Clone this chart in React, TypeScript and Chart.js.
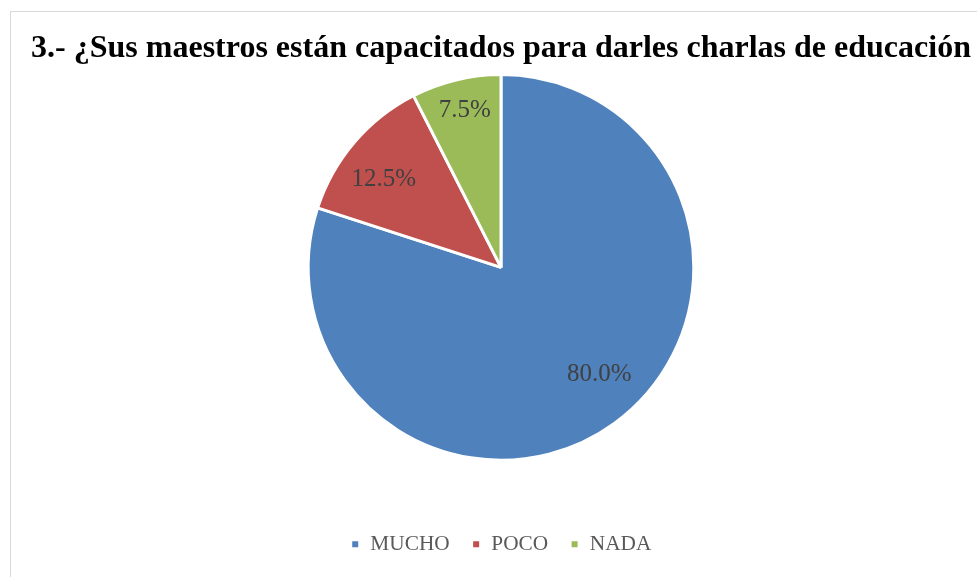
import React, { useEffect, useRef } from "react";
import { Chart, registerables } from "chart.js";

Chart.register(...registerables);

const categories = ["MUCHO", "POCO", "NADA"];
const values = [80.0, 12.5, 7.5];
const valueLabels = ["80.0%", "12.5%", "7.5%"];
const colors = ["#4F81BD", "#C0504D", "#9BBB59"];
const title = "3.- ¿Sus maestros están capacitados para darles charlas de educación";

const labelRadiusFactor = [0.755, 0.761, 0.833];
const labelAngleShiftDeg = [-6.5, -3.5, 0.5];

const dataLabelPlugin = {
  id: "dataLabels",
  afterDatasetsDraw(chart: any) {
    const ctx = chart.ctx;
    const meta = chart.getDatasetMeta(0);
    ctx.save();
    ctx.font = "25px 'Liberation Serif', serif";
    ctx.fillStyle = "#404040";
    ctx.textAlign = "center";
    ctx.textBaseline = "middle";
    meta.data.forEach((arc: any, i: number) => {
      const mid = (arc.startAngle + arc.endAngle) / 2 + (labelAngleShiftDeg[i] * Math.PI) / 180;
      const r = arc.outerRadius * labelRadiusFactor[i];
      ctx.fillText(valueLabels[i], arc.x + Math.cos(mid) * r, arc.y + Math.sin(mid) * r);
    });
    ctx.restore();
  },
};

export default function App() {
  const ref = useRef<HTMLCanvasElement | null>(null);
  useEffect(() => {
    if (!ref.current) return;
    const chart = new Chart(ref.current, {
      type: "pie",
      data: {
        labels: categories,
        datasets: [
          {
            data: values,
            backgroundColor: colors,
            borderColor: "#FFFFFF",
            borderWidth: 3,
          },
        ],
      },
      options: {
        responsive: false,
        animation: false,
        layout: { padding: { bottom: 11 } },
        plugins: {
          title: {
            display: true,
            text: title,
            color: "#000000",
            font: { family: "'Liberation Serif', serif", size: 32, weight: "bold" },
            padding: { top: 17.7, bottom: 5 },
          },
          legend: {
            position: "bottom",
            title: { display: true, text: " ", font: { size: 10 }, padding: { top: 38, bottom: 0 } },
            labels: {
              color: "#595959",
              font: { family: "'Liberation Serif', serif", size: 21.3 },
              boxWidth: 9,
              boxHeight: 9,
              padding: 22,
            },
          },
          tooltip: { enabled: false },
        },
      },
      plugins: [dataLabelPlugin],
    });
    return () => chart.destroy();
  }, []);

  return (
    <div style={{ position: "fixed", left: 0, top: 0, width: 977, height: 577, overflow: "hidden", background: "#fff" }}>
      <div
        style={{
          position: "absolute",
          left: 10,
          top: 11,
          width: 1000,
          height: 600,
          border: "1px solid #D9D9D9",
        }}
      >
        <canvas ref={ref} width={980} height={564} style={{ display: "block", width: 980, height: 564 }} />
      </div>
    </div>
  );
}
